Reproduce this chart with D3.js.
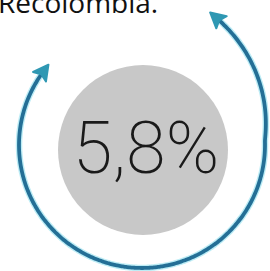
<!DOCTYPE html>
<html><head><meta charset="utf-8">
<script src="https://cdn.jsdelivr.net/npm/d3@7"></script>
<style>html,body{margin:0;padding:0;background:#fff;overflow:hidden}</style>
</head><body>
<script>
const titleText = "Recolombia.";
const values = [5.8];
const valueLabels = ["5,8%"];

const W = 270, H = 271;
const svg = d3.select("body").append("svg").attr("width", W).attr("height", H);

// title (cut at top, as in the reference)
svg.append("text").attr("x", -2).attr("y", 13)
  .attr("font-family", "Open Sans").attr("font-size", 28).attr("fill", "#111")
  .text(titleText);

const cx = 142, cy = 145;
const g = svg.append("g").attr("transform", `translate(${cx},${cy})`);

// gray disc
g.append("circle").attr("cx", 1).attr("cy", 5).attr("r", 85).attr("fill", "#c8c8c8");

// value label
const fmt = d3.formatLocale({decimal: ",", thousands: ".", grouping: [3], currency: ["", ""]});
g.append("text").attr("x", 4).attr("y", 28).attr("text-anchor", "middle")
  .attr("font-family", "Roboto").attr("font-weight", 200).attr("font-size", 72)
  .attr("fill", "#1a1a1a")
  .text(fmt.format(".1f")(values[0]) + "%");

// arrow arc (spiral-ish hand drawn)
const deg = Math.PI / 180;
const a0 = 31, a1 = 306;
const angles = d3.range(a0, a1 + 0.5, 1);
const rScale = a => 123 + Math.pow(Math.max(0, (88 - a) / 57), 1.1) * 24;
const line = d3.lineRadial().angle(a => a * deg).radius(rScale).curve(d3.curveBasis);

g.append("path").attr("d", line(angles)).attr("fill", "none")
  .attr("stroke", "#8fe0ee").attr("stroke-width", 6.5).attr("stroke-opacity", 0.6);
g.append("path").attr("d", line(angles)).attr("fill", "none")
  .attr("stroke", "#246f96").attr("stroke-width", 3.8);

function head(a, dir) {
  const r = rScale(a);
  const x = r * Math.sin(a * deg), y = -r * Math.cos(a * deg);
  const a2 = a + dir * 1;
  const r2 = rScale(a2);
  const x2 = r2 * Math.sin(a2 * deg), y2 = -r2 * Math.cos(a2 * deg);
  const ang = Math.atan2(y2 - y, x2 - x) * 180 / Math.PI;
  g.append("path").attr("d", "M10,0 L-5,-8 L-2,0 L-5,8 Z")
    .attr("transform", `translate(${x},${y}) rotate(${ang})`)
    .attr("fill", "#2f98b3").attr("stroke", "#2f98b3").attr("stroke-width", 2)
    .attr("stroke-linejoin", "round");
}
head(a0, -1);
head(a1, 1);
</script>
</body></html>
